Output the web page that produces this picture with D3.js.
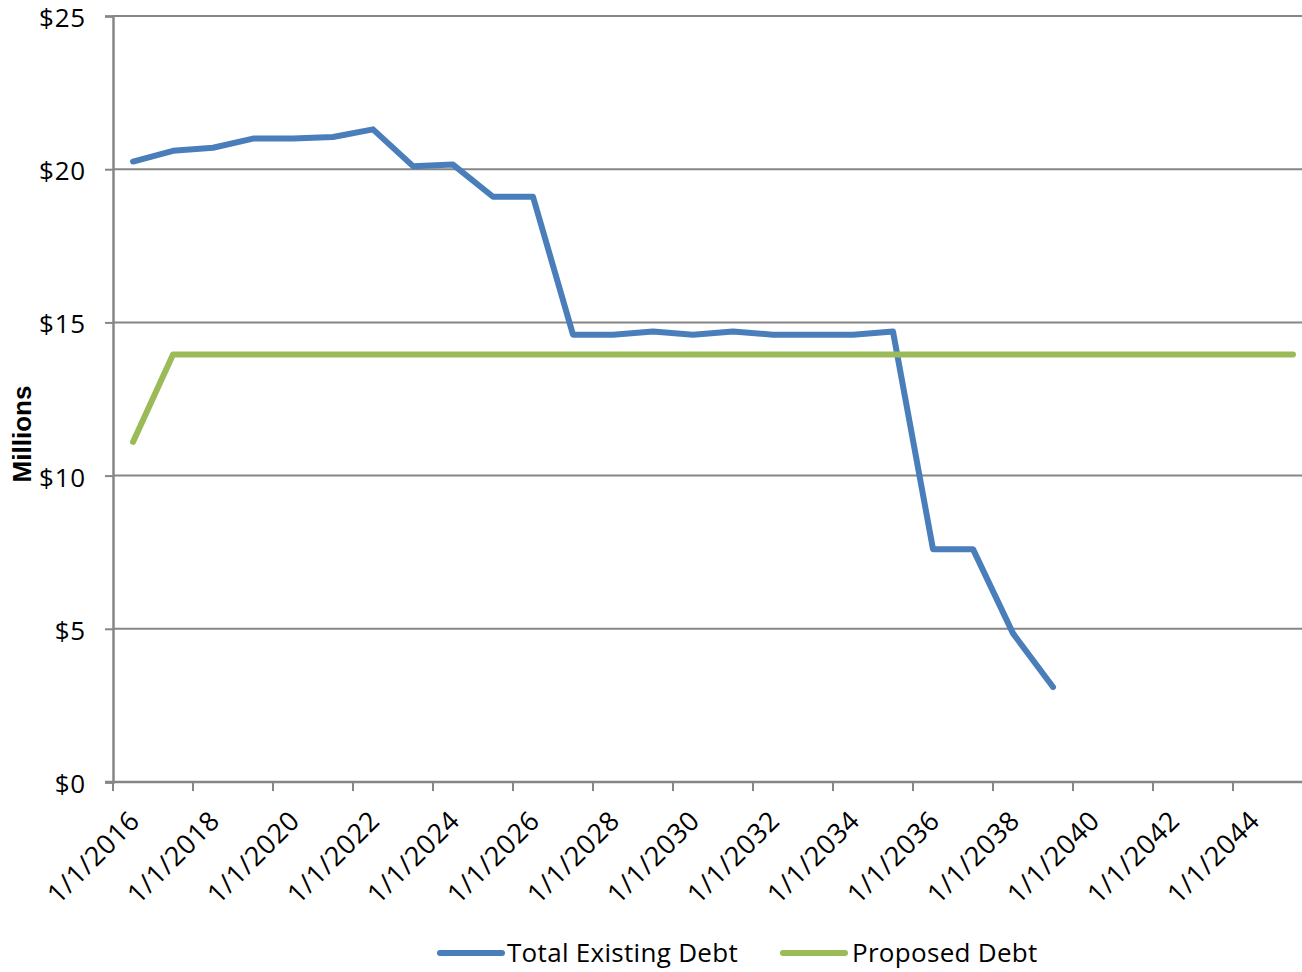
<!DOCTYPE html>
<html>
<head>
<meta charset="utf-8">
<script src="https://cdn.jsdelivr.net/npm/d3@7/dist/d3.min.js"></script>
<style>
  html, body { margin: 0; padding: 0; background: #fff; }
  svg { display: block; }
  text { font-family: "Open Sans", "Liberation Sans", sans-serif; fill: #000; }
</style>
</head>
<body>
<svg id="chart" width="1302" height="972"></svg>
<script>
// Annual debt service, millions of dollars
const years = [2016, 2017, 2018, 2019, 2020, 2021, 2022, 2023, 2024, 2025,
               2026, 2027, 2028, 2029, 2030, 2031, 2032, 2033, 2034, 2035,
               2036, 2037, 2038, 2039, 2040, 2041, 2042, 2043, 2044, 2045];
const existingDebt = [20.25, 20.6, 20.7, 21.0, 21.0, 21.05, 21.3, 20.1, 20.15, 19.1,
                      19.1, 14.6, 14.6, 14.7, 14.6, 14.7, 14.6, 14.6, 14.6, 14.7,
                      7.6, 7.6, 4.85, 3.1];
const proposedDebt = [11.1, 13.95, 13.95, 13.95, 13.95, 13.95, 13.95, 13.95, 13.95, 13.95,
                      13.95, 13.95, 13.95, 13.95, 13.95, 13.95, 13.95, 13.95, 13.95, 13.95,
                      13.95, 13.95, 13.95, 13.95, 13.95, 13.95, 13.95, 13.95, 13.95, 13.95];
const yTicks = [0, 5, 10, 15, 20, 25];
const labelYears = [2016, 2018, 2020, 2022, 2024, 2026, 2028, 2030, 2032, 2034,
                    2036, 2038, 2040, 2042, 2044];
const seriesNames = ["Total Existing Debt", "Proposed Debt"];
const seriesColors = ["#4A7EBB", "#9BBB59"];

const svg = d3.select("#chart");
const plotLeft = 113, plotTop = 16, plotBottom = 782, plotRight = 1313;
const grey = "#868686";

const x = d3.scaleBand().domain(years).range([plotLeft, plotRight]).padding(0);
const y = d3.scaleLinear().domain([0, 25]).range([plotBottom, plotTop]);
const cx = yr => x(yr) + x.bandwidth() / 2;

// horizontal gridlines
svg.append("g").selectAll("line").data(yTicks.filter(d => d > 0)).join("line")
  .attr("x1", plotLeft).attr("x2", plotRight)
  .attr("y1", d => y(d)).attr("y2", d => y(d))
  .attr("stroke", grey).attr("stroke-width", 2);

// y axis
const yAxis = svg.append("g").attr("transform", `translate(${plotLeft},0)`)
  .call(d3.axisLeft(y).tickValues(yTicks).tickSize(8).tickPadding(19)
        .tickFormat(d => "$" + d));
yAxis.select(".domain").attr("stroke", grey).attr("stroke-width", 2.5);
yAxis.selectAll(".tick line").attr("stroke", grey).attr("stroke-width", 2);
yAxis.selectAll(".tick text").attr("font-size", 26).attr("letter-spacing", 0.8)
  .style("font-family", '"Open Sans", sans-serif').attr("fill", "#000").attr("dy", "0.4em");

// x axis: ticks on every second category boundary
const xAxisG = svg.append("g");
xAxisG.append("line").attr("x1", plotLeft - 8).attr("x2", plotRight)
  .attr("y1", plotBottom).attr("y2", plotBottom).attr("stroke", grey).attr("stroke-width", 2.5);
xAxisG.selectAll("line.tick").data(labelYears).join("line").attr("class", "tick")
  .attr("x1", d => x(d)).attr("x2", d => x(d))
  .attr("y1", plotBottom).attr("y2", plotBottom + 9)
  .attr("stroke", grey).attr("stroke-width", 2);
xAxisG.selectAll("text").data(labelYears).join("text")
  .attr("transform", d => `translate(${cx(d) - 5},${plotBottom + 27}) rotate(-45)`)
  .attr("text-anchor", "end").attr("font-size", 27).attr("letter-spacing", 0.6)
  .attr("dy", "0.7em")
  .text(d => "1/1/" + d);

// y axis title
svg.append("text")
  .attr("transform", `translate(31,434) rotate(-90)`)
  .attr("text-anchor", "middle").attr("font-size", 26).attr("font-weight", "bold")
  .style("font-family", '"Liberation Sans", Arial, sans-serif')
  .text("Millions");

// series lines
const line = d3.line().x(d => cx(d[0])).y(d => y(d[1]));
const seriesData = [
  existingDebt.map((v, i) => [years[i], v]),
  proposedDebt.map((v, i) => [years[i], v])
];
svg.append("g").selectAll("path").data(seriesData).join("path")
  .attr("d", line)
  .attr("fill", "none")
  .attr("stroke", (d, i) => seriesColors[i])
  .attr("stroke-width", 6)
  .attr("stroke-linejoin", "round")
  .attr("stroke-linecap", "round");

// legend
const legendItems = [{ x0: 440, tx: 507 }, { x0: 783, tx: 852 }];
const lg = svg.append("g");
legendItems.forEach((p, i) => {
  lg.append("line").attr("x1", p.x0).attr("x2", p.x0 + 62)
    .attr("y1", 953).attr("y2", 953)
    .attr("stroke", seriesColors[i]).attr("stroke-width", 6).attr("stroke-linecap", "round");
  lg.append("text").attr("x", p.tx).attr("y", 953).attr("dy", "0.36em")
    .attr("font-size", 26).attr("letter-spacing", 0.3).text(seriesNames[i]);
});
</script>
</body>
</html>
